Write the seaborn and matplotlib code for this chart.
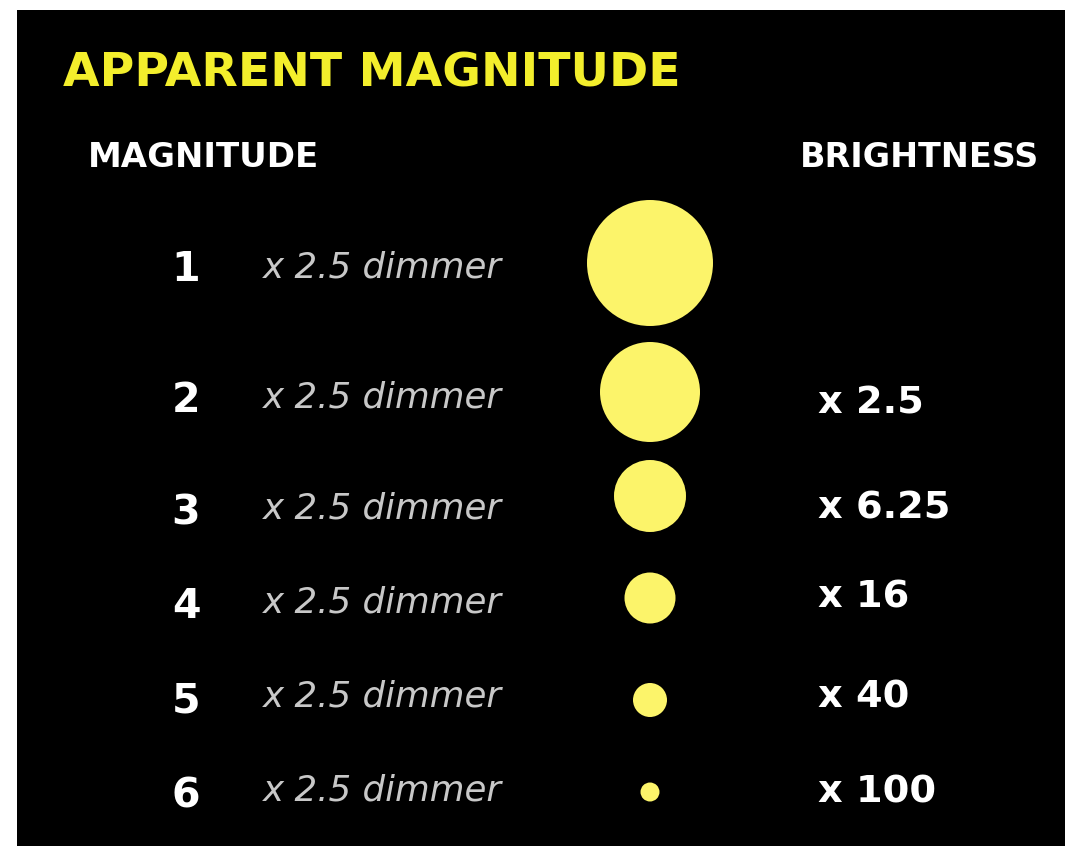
import pandas as pd
import seaborn as sns
import matplotlib.pyplot as plt

# Apparent magnitude chart: each step is 2.5x dimmer

## data
magnitudes = ["1", "2", "3", "4", "5", "6"]
dimmer_labels = ["x 2.5 dimmer"] * 6
brightness_labels = ["", "x 2.5", "x 6.25", "x 16", "x 40", "x 100"]
star_radius = [63, 50, 36, 25.5, 17, 9.5]   # drawn circle radius, px

## layout (pixel coords on the 1065x846 canvas)
row_y = [263, 392, 496, 598, 700, 792]
num_base = [281, 412, 524, 618, 712, 807]
dim_base = [277, 407, 518, 612, 706, 800]
bright_base = [0, 413, 518, 607, 707, 802]

DPI = 100
YELLOW = '#f3ee2c'
STAR = '#fcf46a'

sns.set_theme(style='white')
plt.rcParams['font.family'] = ['DejaVu Sans']

fig = plt.figure(figsize=(10.65, 8.46), dpi=DPI, facecolor='white')
ax = fig.add_axes([17 / 1065, 0, 1048 / 1065, 836 / 846])
ax.set_facecolor('black')

df = pd.DataFrame({'x': [650] * len(row_y), 'y': row_y, 'r': star_radius})
# marker area in pt^2 from radius in px
sizes = {r: (2 * r * 72 / DPI) ** 2 for r in star_radius}
sns.scatterplot(data=df, x='x', y='y', size='r', sizes=sizes, color=STAR,
                linewidth=0, legend=False, ax=ax)

ax.set_xlim(17, 1065)
ax.set_ylim(846, 10)
ax.set_xticks([])
ax.set_yticks([])
ax.set_xlabel('')
ax.set_ylabel('')
for s in ax.spines.values():
    s.set_visible(False)

ax.text(63, 86, 'APPARENT MAGNITUDE', color=YELLOW, fontsize=34,
        fontweight='bold', va='baseline', ha='left')
ax.text(88, 167, 'MAGNITUDE', color='white', fontsize=24.5,
        fontweight='bold', va='baseline', ha='left')
ax.text(800, 167, 'BRIGHTNESS', color='white', fontsize=24,
        fontweight='bold', va='baseline', ha='left')

for i, m in enumerate(magnitudes):
    ax.text(186, num_base[i], m, color='white', fontsize=29.6,
            fontweight='bold', va='baseline', ha='center')
    ax.text(263, dim_base[i], dimmer_labels[i], color='#c8c8c8',
            fontsize=25.7, style='italic', va='baseline', ha='left')
    if brightness_labels[i]:
        ax.text(818, bright_base[i], brightness_labels[i], color='white',
                fontsize=27.5, fontweight='bold', va='baseline', ha='left')

fig.savefig('out.png', dpi=DPI, facecolor='white')
